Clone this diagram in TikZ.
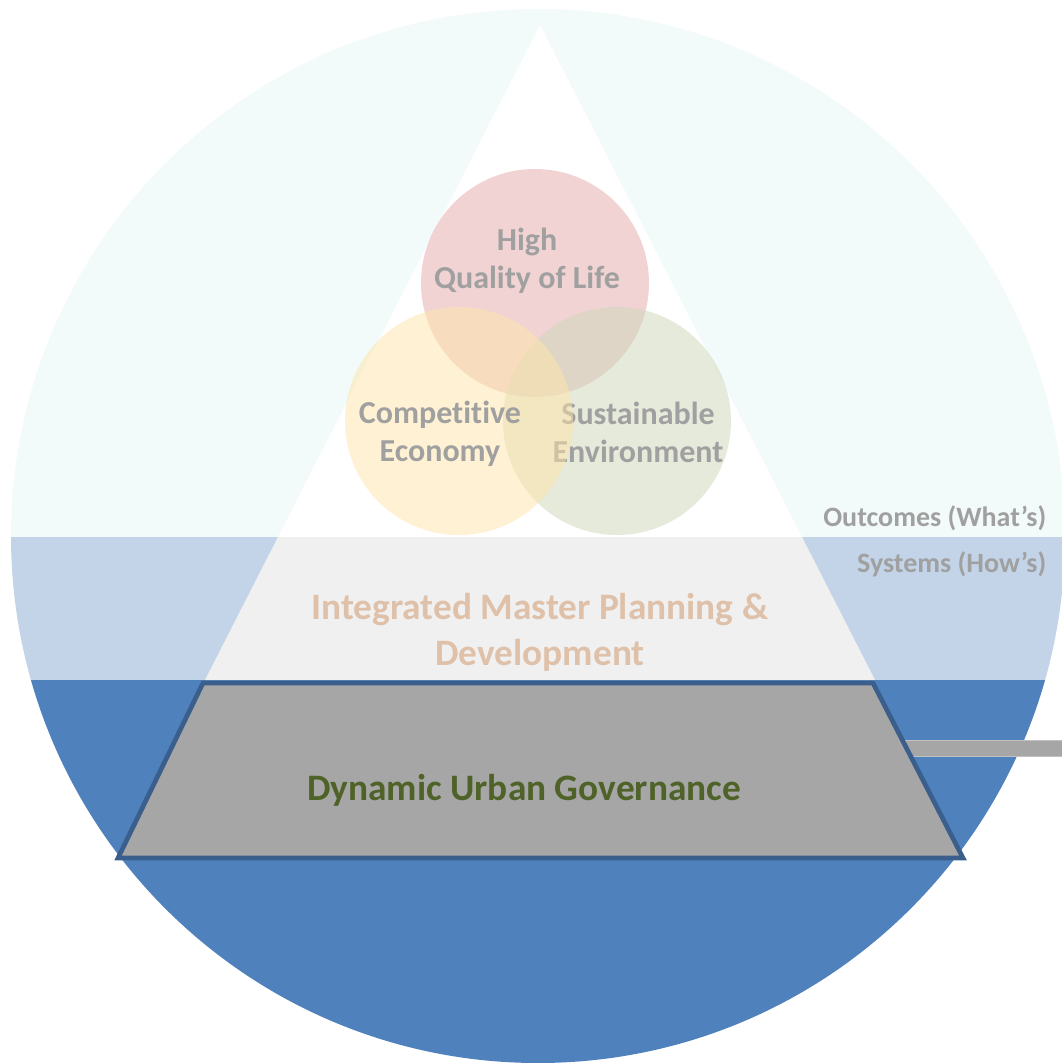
\documentclass[tikz,border=0pt]{standalone}
\usepackage{fontspec}
\setmainfont{Carlito}[Ligatures=NoCommon]
\usetikzlibrary{positioning}

\definecolor{skyband}{HTML}{F2FAFA}
\definecolor{paleblue}{HTML}{C3D4E8}
\definecolor{midblue}{HTML}{4F81BD}
\definecolor{darkblue}{HTML}{3A5F8C}
\definecolor{bandgray}{HTML}{F0F0F0}
\definecolor{govgray}{HTML}{A6A6A6}
\definecolor{labelgray}{HTML}{A0A0A0}
\definecolor{peach}{HTML}{DFC1A9}
\definecolor{olive}{HTML}{4F6228}
\definecolor{lifepink}{HTML}{E5A9AB}
\definecolor{econyellow}{HTML}{FFE5A9}
\definecolor{envgreen}{HTML}{CDD7B9}

\tikzset{
  pillar/.style={circle, minimum size=171pt, inner sep=0pt, fill opacity=0.5},
  pillartext/.style={align=center, text=labelgray, font=\bfseries\fontsize{24}{28.5}\selectfont},
  tiertext/.style={align=center, font=\bfseries\fontsize{28}{34.5}\selectfont},
  sidetext/.style={anchor=east, text=labelgray, font=\bfseries\fontsize{21}{24}\selectfont}
}

\begin{document}
\begin{tikzpicture}[x=0.75pt, y=-0.75pt]
    \useasboundingbox (0,0) rectangle (1062,1063);

    % Disc split into three bands
    \begin{scope}
        \clip (538,536) circle[radius=527];
        \fill[skyband]  (0,0)   rectangle (1062,537);
        \fill[paleblue] (0,537) rectangle (1062,680);
        \fill[midblue]  (0,680) rectangle (1062,1063);
    \end{scope}

    % Pyramid
    \coordinate (apex) at (540,25);
    \fill[white]    (apex) -- (278,537) -- (802,537) -- cycle;
    \fill[bandgray] (278,537) -- (802,537) -- (875,680) -- (205,680) -- cycle;

    % Link bar to the right
    \node[draw=govgray!70!white, fill=govgray, line width=0.6pt, minimum width=118pt,
          minimum height=12.5pt, inner sep=0pt, anchor=west] (link) at (905,748.5) {};

    % Base of the pyramid
    \draw[darkblue, fill=govgray, line width=3.5pt, line join=miter]
        (203,683) -- (873,683) -- (963,858) -- (118,858) -- cycle;

    % Outcome circles, each with its label (economy last, on top)
    \node[pillar, fill=lifepink]   (life) at (535,283) {};
    \node[pillartext] (lifetext) at (527,261) {High\\Quality of Life};
    \node[pillar, fill=envgreen]   (env)  at (617,421) {};
    \node[pillartext] (envtext)  at (638,432) {Sustainable\\Environment};
    \node[pillar, fill=econyellow] (econ) at (459,421) {};
    \node[pillartext] (econtext) at (440,434) {Competitive\\Economy};

    % Tier labels
    \node[tiertext, text=peach] (plan) at (540,632) {Integrated Master Planning \&\\Development};
    \node[tiertext, text=olive] (gov)  at (524,790) {Dynamic Urban Governance};

    \node[sidetext] (whats) at (1051,518) {Outcomes (What’s)};
    \node[sidetext] (hows)  at (1051,564) {Systems (How’s)};
\end{tikzpicture}
\end{document}
